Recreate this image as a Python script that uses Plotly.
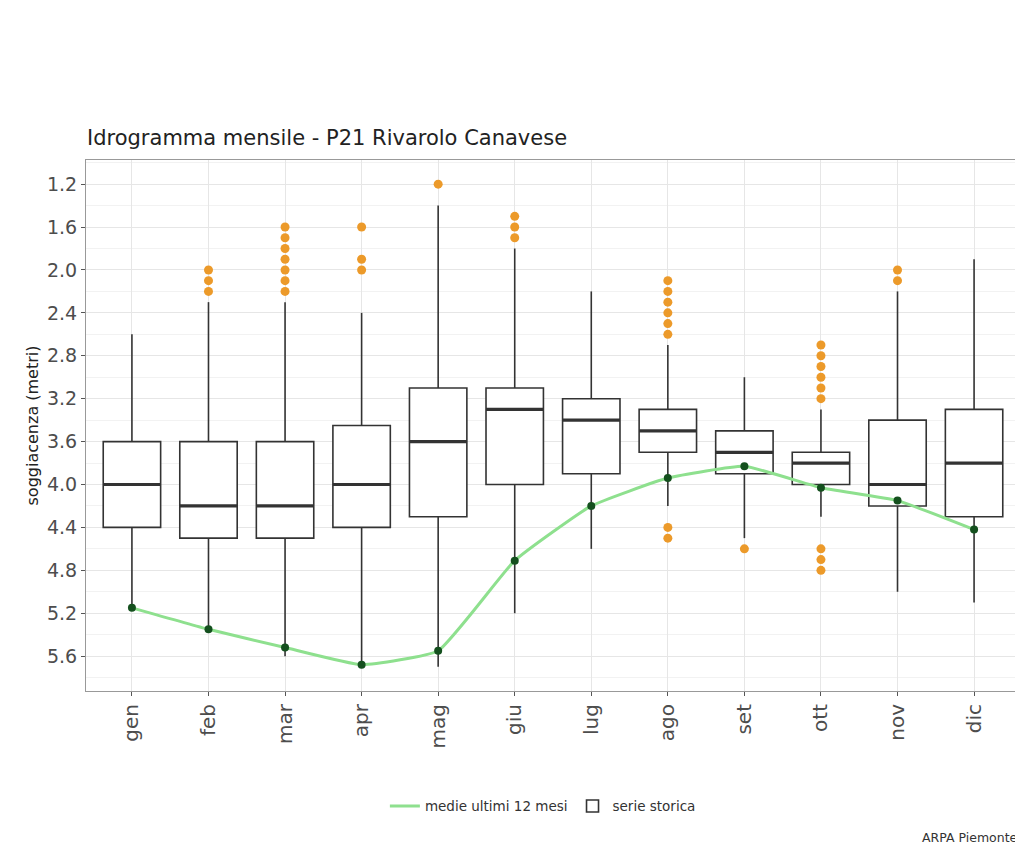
import plotly.graph_objects as go

months = ["gen", "feb", "mar", "apr", "mag", "giu", "lug", "ago", "set", "ott", "nov", "dic"]
upper_fence = [2.6, 2.3, 2.3, 2.4, 1.4, 1.8, 2.2, 2.7, 3.0, 3.3, 2.2, 1.9]
q1 = [3.6, 3.6, 3.6, 3.45, 3.1, 3.1, 3.2, 3.3, 3.5, 3.7, 3.4, 3.3]
median = [4.0, 4.2, 4.2, 4.0, 3.6, 3.3, 3.4, 3.5, 3.7, 3.8, 4.0, 3.8]
q3 = [4.4, 4.5, 4.5, 4.4, 4.3, 4.0, 3.9, 3.7, 3.9, 4.0, 4.2, 4.3]
lower_fence = [5.15, 5.35, 5.6, 5.7, 5.7, 5.2, 4.6, 4.2, 4.5, 4.3, 5.0, 5.1]
outliers = {
    "feb": [2.0, 2.1, 2.2],
    "mar": [1.6, 1.7, 1.8, 1.9, 2.0, 2.1, 2.2],
    "apr": [1.6, 1.9, 2.0],
    "mag": [1.2],
    "giu": [1.5, 1.6, 1.7],
    "ago": [2.1, 2.2, 2.3, 2.4, 2.5, 2.6, 4.4, 4.5],
    "set": [4.6],
    "ott": [2.7, 2.8, 2.9, 3.0, 3.1, 3.2, 4.6, 4.7, 4.8],
    "nov": [2.0, 2.1],
}
recent_mean = [5.15, 5.35, 5.52, 5.68, 5.55, 4.71, 4.2, 3.94, 3.83, 4.03, 4.15, 4.42]
y_ticks = [1.2, 1.6, 2.0, 2.4, 2.8, 3.2, 3.6, 4.0, 4.4, 4.8, 5.2, 5.6]

FONT = "DejaVu Sans, Liberation Sans, sans-serif"
xs = list(range(len(months)))
BW = 0.75
BOXCOL = "#333333"

fig = go.Figure()

# whiskers
wx, wy = [], []
for i, a, b, c, d in zip(xs, upper_fence, q1, q3, lower_fence):
    wx += [i, i, None, i, i, None]
    wy += [a, b, None, c, d, None]
fig.add_trace(go.Scatter(x=wx, y=wy, mode="lines", line=dict(color=BOXCOL, width=1.6),
                         showlegend=False, hoverinfo="skip"))

fig.add_trace(go.Box(
    x=xs, q1=q1, median=median, q3=q3,
    lowerfence=lower_fence, upperfence=upper_fence,
    width=BW, boxpoints=False, whiskerwidth=0,
    fillcolor="white", line=dict(color=BOXCOL, width=1.6),
    name="serie storica", showlegend=True, hoverinfo="skip",
))

# thicker median bars (ggplot style)
mx, my = [], []
for i, m in zip(xs, median):
    mx += [i - BW / 2, i + BW / 2, None]
    my += [m, m, None]
fig.add_trace(go.Scatter(x=mx, y=my, mode="lines", line=dict(color=BOXCOL, width=3.2),
                         showlegend=False, hoverinfo="skip"))

ox, oy = [], []
for k, vals in outliers.items():
    i = months.index(k)
    ox += [i] * len(vals)
    oy += vals
fig.add_trace(go.Scatter(x=ox, y=oy, mode="markers",
                         marker=dict(color="#EC9A2A", size=9, line=dict(width=0)),
                         showlegend=False))

fig.add_trace(go.Scatter(x=xs, y=recent_mean, mode="lines",
                         line=dict(color="#8EE08E", width=3, shape="spline", smoothing=0.4),
                         name="medie ultimi 12 mesi", showlegend=True))
fig.add_trace(go.Scatter(x=xs, y=recent_mean, mode="markers",
                         marker=dict(color="#14501E", size=8),
                         showlegend=False))

W, H = 1015, 839
fig.update_layout(
    width=W, height=H,
    paper_bgcolor="white", plot_bgcolor="white",
    margin=dict(l=78, r=3, t=152, b=156),
    font=dict(family=FONT, color="#222222"),
    title=dict(text="Idrogramma mensile - P21 Rivarolo Canavese", x=79 / W, xref="container",
               xanchor="left", y=1 - 130 / H, yref="container", yanchor="middle",
               font=dict(size=21, color="#222222")),
    legend=dict(orientation="h", x=0.32, xanchor="left", y=-0.217, yanchor="middle",
                font=dict(size=13.5, color="#333333"), traceorder="reversed",
                itemwidth=30),
    showlegend=True,
)
fig.update_xaxes(
    range=[-0.6, 11.6], tickvals=xs, ticktext=months, tickangle=-90,
    tickfont=dict(size=20, color="#4d4d4d"),
    showgrid=True, gridcolor="#e6e6e6", gridwidth=1, zeroline=False,
    ticks="outside", ticklen=4, tickcolor="#555555",
    showline=True, linecolor="#999999", mirror=True,
)
fig.update_yaxes(
    range=[5.925, 0.975], tickvals=y_ticks, tickformat=".1f",
    tickfont=dict(size=19, color="#4d4d4d"),
    title=dict(text="soggiacenza (metri)", font=dict(size=16, color="#222222"), standoff=4),
    showgrid=True, gridcolor="#e6e6e6", gridwidth=1, zeroline=False,
    minor=dict(dtick=0.2, tick0=1.0, showgrid=True, gridcolor="#f2f2f2", ticklen=0),
    ticks="outside", ticklen=4, tickcolor="#555555",
    showline=True, linecolor="#999999", mirror=True,
)
fig.add_annotation(text="ARPA Piemonte", x=1, xref="paper", xanchor="right",
                   y=-0.275, yref="paper", yanchor="middle",
                   showarrow=False, font=dict(size=12.5, color="#333333"))

fig.write_html("out.html")
